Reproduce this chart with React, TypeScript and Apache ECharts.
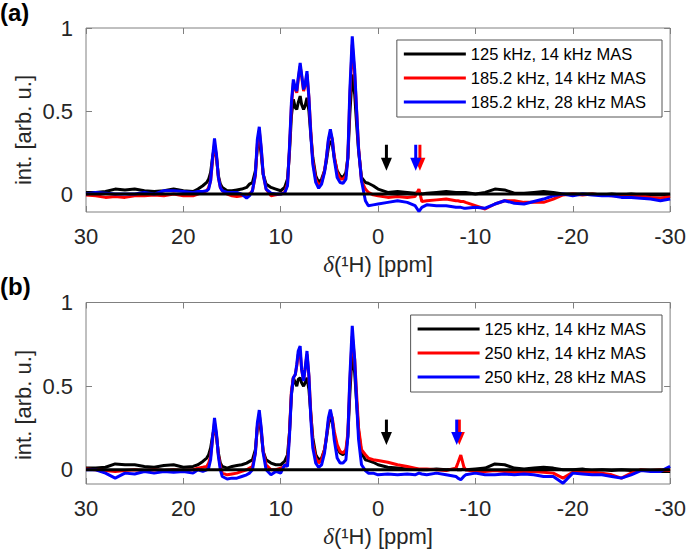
import React, { useEffect, useRef } from "react";
import * as echarts from "echarts";

// Chemical shift grid (ppm), shared by all spectra
const ppm = [
  30, 29, 28, 27, 26, 25, 24, 23, 22, 21, 20, 19,
  18.5, 18, 17.6, 17.4, 17.2, 17.0, 16.8, 16.6, 16.4, 16.2, 16.0,
  15.5, 15, 14.5, 14, 13.5, 13.2,
  12.9, 12.6, 12.4, 12.2, 12.0, 11.8, 11.5,
  11.0, 10.5, 10.0, 9.6, 9.3,
  9.1, 8.9, 8.7, 8.5, 8.35, 8.2, 8.0, 7.85, 7.65, 7.5, 7.3, 7.1, 6.9, 6.7, 6.4, 6.1,
  5.8, 5.5, 5.3, 5.1, 4.9, 4.7, 4.5, 4.2, 3.9,
  3.6, 3.3, 3.1, 2.9, 2.65, 2.4, 2.2, 2.0, 1.7,
  1.3, 1.0, 0.5, 0,
  -1, -2, -3, -3.8, -4.2, -4.5, -5,
  -6, -7, -8, -8.2, -8.5, -8.8, -9,
  -10, -11, -12, -13, -14, -15, -16, -17, -18, -19, -20, -21, -22, -23, -24, -25, -26, -27, -28, -29, -30,
];

// Panel (a)
const blackA = [
  0.01, 0.01, 0.015, 0.03, 0.025, 0.03, 0.02, 0.015, 0.02, 0.03, 0.02, 0.015,
  0.03, 0.05, 0.07, 0.09, 0.13, 0.22, 0.29, 0.22, 0.11, 0.06, 0.04,
  0.02, 0.02, 0.025, 0.03, 0.04, 0.06,
  0.07, 0.14, 0.28, 0.33, 0.24, 0.12, 0.06,
  0.04, 0.03, 0.02, 0.04, 0.09,
  0.25, 0.47, 0.57, 0.52, 0.51, 0.55, 0.59, 0.54, 0.51, 0.53, 0.58, 0.5, 0.35, 0.22, 0.11, 0.07,
  0.09, 0.14, 0.2, 0.28, 0.32, 0.3, 0.22, 0.14, 0.11,
  0.1, 0.13, 0.22, 0.48, 0.72, 0.6, 0.42, 0.26, 0.1,
  0.07, 0.065, 0.05, 0.03,
  0.01, 0.015, 0.01, 0.005, 0.01, 0.0, 0.005,
  0.01, 0.015, 0.01, 0.01, 0.01, 0.01, 0.01,
  0.0, 0.01, 0.03, 0.025, 0.005, 0.005, 0.01, 0.015, 0.01, 0.0, 0.0, 0.0, 0.0, -0.005, 0.0, -0.005, 0.0, -0.005, -0.005, -0.005, -0.005,
];
const redA = [
  -0.005, -0.01, -0.02, -0.015, -0.02, -0.01, -0.01, -0.005, -0.01, 0.0, -0.01, -0.01,
  0.0, 0.01, 0.02, 0.04, 0.08, 0.2, 0.3, 0.23, 0.1, 0.04, 0.02,
  0.0, -0.01, -0.015, -0.01, -0.005, 0.0,
  0.02, 0.11, 0.3, 0.38, 0.27, 0.12, 0.03,
  -0.01, -0.005, 0.0, 0.01, 0.06,
  0.27, 0.53, 0.67, 0.63, 0.61, 0.69, 0.77, 0.71, 0.62, 0.65, 0.72, 0.58, 0.37, 0.2, 0.09, 0.05,
  0.07, 0.14, 0.22, 0.32, 0.37, 0.33, 0.23, 0.13, 0.09,
  0.09, 0.11, 0.22, 0.58, 0.9, 0.72, 0.5, 0.28, 0.08,
  0.03, 0.01, -0.005, -0.01,
  -0.02, -0.015, -0.02, -0.015, 0.03, -0.045, -0.04,
  -0.035, -0.03, -0.04, -0.04, -0.045, -0.045, -0.05,
  -0.07, -0.09, -0.06, -0.04, -0.04, -0.05, -0.05, -0.05, -0.03, -0.005, 0.0, -0.005, 0.0, -0.005, -0.01, -0.01, -0.015, -0.01, -0.02, -0.025, -0.015,
];
const blueA = [
  0.0, 0.01, 0.005, 0.0, 0.0, 0.0, 0.01, 0.0, 0.02, 0.02, 0.015, 0.01,
  0.015, 0.015, 0.02, 0.03, 0.08, 0.22, 0.335, 0.24, 0.1, 0.04, 0.02,
  0.01, 0.01, 0.01, 0.0, -0.025, -0.01,
  0.02, 0.12, 0.33, 0.405, 0.28, 0.12, 0.03,
  0.005, 0.0, 0.0, 0.005, 0.05,
  0.28, 0.55, 0.69, 0.64, 0.62, 0.7, 0.79, 0.72, 0.63, 0.66, 0.74, 0.58, 0.35, 0.18, 0.07, 0.035,
  0.06, 0.13, 0.22, 0.33, 0.39, 0.33, 0.21, 0.1, 0.07,
  0.065, 0.09, 0.22, 0.62, 0.95, 0.75, 0.5, 0.27, 0.08,
  -0.04, -0.07, -0.065, -0.06,
  -0.05, -0.04, -0.05, -0.07, -0.105, -0.08, -0.065,
  -0.07, -0.07, -0.08, -0.08, -0.08, -0.085, -0.085,
  -0.08, -0.085, -0.06, -0.04, -0.055, -0.06, -0.045, -0.03, -0.01, 0.0, -0.01, 0.0, -0.005, -0.01, -0.01, -0.02, -0.02, -0.025, -0.03, -0.04, -0.03,
];

// Panel (b)
const blackB = [
  0.01, 0.01, 0.015, 0.035, 0.03, 0.03, 0.02, 0.015, 0.025, 0.03, 0.015, 0.02,
  0.03, 0.05, 0.07, 0.09, 0.13, 0.2, 0.26, 0.2, 0.1, 0.04, 0.02,
  0.01, 0.02, 0.025, 0.03, 0.04, 0.05,
  0.06, 0.12, 0.25, 0.3, 0.22, 0.11, 0.06,
  0.04, 0.03, 0.03, 0.05, 0.09,
  0.22, 0.45, 0.55, 0.52, 0.5, 0.54, 0.55, 0.52, 0.5, 0.52, 0.55, 0.48, 0.33, 0.19, 0.09, 0.06,
  0.07, 0.12, 0.19, 0.27, 0.31, 0.29, 0.21, 0.13, 0.1,
  0.09, 0.11, 0.2, 0.45, 0.7, 0.58, 0.4, 0.23, 0.1,
  0.06, 0.055, 0.045, 0.03,
  0.015, 0.01, 0.005, 0.005, 0.0, 0.0, 0.0,
  0.005, 0.0, 0.005, 0.0, 0.0, 0.005, 0.0,
  0.005, 0.01, 0.035, 0.03, 0.01, 0.005, 0.01, 0.015, 0.01, 0.0, 0.0, 0.005, -0.005, 0.0, -0.005, 0.0, -0.005, -0.005, -0.005, -0.01, -0.01,
];
const redB = [
  0.005, 0.0, -0.005, -0.01, -0.005, 0.0, -0.005, 0.0, -0.005, 0.0, -0.005, 0.0,
  0.01, 0.015, 0.02, 0.04, 0.08, 0.18, 0.28, 0.21, 0.09, 0.02, -0.02,
  -0.03, -0.025, -0.02, -0.01, 0.0, 0.01,
  0.02, 0.1, 0.26, 0.33, 0.24, 0.11, 0.03,
  0.0, 0.0, 0.01, 0.02, 0.04,
  0.22, 0.47, 0.55, 0.57, 0.62, 0.69, 0.7, 0.6, 0.54, 0.6, 0.69, 0.56, 0.33, 0.16, 0.07, 0.04,
  0.06, 0.12, 0.2, 0.29, 0.34, 0.31, 0.23, 0.15, 0.11,
  0.1, 0.12, 0.22, 0.52, 0.8, 0.66, 0.45, 0.25, 0.12,
  0.09, 0.07, 0.06, 0.055,
  0.045, 0.03, 0.02, 0.01, 0.005, 0.005, 0.005,
  0.0, -0.005, 0.01, 0.04, 0.088, 0.02, 0.0,
  -0.01, -0.01, -0.005, -0.01, -0.015, -0.01, -0.01, -0.015, -0.02, -0.05, -0.015, -0.01, -0.015, -0.02, -0.03, -0.05, -0.02, 0.0, -0.005, 0.0, -0.005,
];
const blueB = [
  0.0, 0.0, -0.02, -0.05, -0.02, -0.025, -0.01, -0.02, -0.01, -0.015, -0.01, -0.02,
  0.0, -0.01, 0.0, 0.01, 0.06, 0.19, 0.31, 0.22, 0.08, 0.0, -0.04,
  -0.055, -0.05, -0.05, -0.04, -0.03, -0.02,
  0.0, 0.1, 0.28, 0.357, 0.25, 0.1, 0.0,
  -0.03, -0.01, -0.02, 0.03, 0.02,
  0.2, 0.45, 0.55, 0.57, 0.63, 0.71, 0.74, 0.6, 0.53, 0.6, 0.71, 0.56, 0.3, 0.13, 0.04, 0.015,
  0.03, 0.1, 0.2, 0.31, 0.36, 0.3, 0.18, 0.07, 0.04,
  0.04, 0.06, 0.2, 0.55, 0.86, 0.66, 0.4, 0.18, 0.03,
  -0.005, -0.02, -0.02, -0.03,
  -0.025, -0.03, -0.025, -0.03, -0.02, -0.025, -0.03,
  -0.02, -0.03, -0.04, -0.05, -0.06, -0.04, -0.03,
  -0.02, -0.03, -0.03, -0.025, -0.03, -0.025, -0.03, -0.04, -0.04, -0.08, -0.02, -0.025, -0.03, -0.03, -0.04, -0.05, -0.03, -0.005, -0.01, -0.01, 0.02,
];

const namesA = ["125 kHz, 14 kHz MAS", "185.2 kHz, 14 kHz MAS", "185.2 kHz, 28 kHz MAS"];
const namesB = ["125 kHz, 14 kHz MAS", "250 kHz, 14 kHz MAS", "250 kHz, 28 kHz MAS"];
const yTitle = "int. [arb. u.]";

// Arrows: ppm position of each arrow (black, red, blue), arrow top and tip intensity
const arrowPpmA = [-0.86, -4.3, -3.87];
const arrowYA = [0.297, 0.14];
const arrowPpmB = [-0.86, -8.35, -8.08];
const arrowYB = [0.3, 0.148];

const xTicks = { min: -30, max: 30, interval: 10 };
const yTickValues = [0, 0.5, 1];
const yRangeA = [-0.108, 1];
const yRangeB = [-0.085, 1];
const zeroLine = [30, -30];

const COLORS = ["#000000", "#ff0000", "#0000ff"];
const FONT = "Liberation Sans";
const BOX = "#808080";
const LABEL = "#262626";

export default function App() {
  const ref = useRef<HTMLDivElement>(null);
  useEffect(() => {
    document.body.style.margin = "0";
    const chart = echarts.init(ref.current!, null, { renderer: "svg" });

    const pair = (vals: number[]) => ppm.map((p, i) => [p, vals[i]]);

    const tick = { inside: true, length: 6, lineStyle: { color: BOX, width: 1 } };
    const xBase = (gridIndex: number, pos: "bottom" | "top", labels: boolean) => ({
      type: "value",
      gridIndex,
      position: pos,
      inverse: true,
      min: xTicks.min,
      max: xTicks.max,
      interval: xTicks.interval,
      axisLine: { show: false, onZero: false },
      axisTick: tick,
      splitLine: { show: false },
      axisLabel: labels
        ? { show: true, fontSize: 22, color: LABEL, fontFamily: FONT, margin: 13 }
        : { show: false },
      name: labels ? "{i|δ}(¹H) [ppm]" : "",
      nameLocation: "middle",
      nameGap: 41,
      nameTextStyle: {
        fontSize: 22,
        color: LABEL,
        fontFamily: FONT,
        rich: { i: { fontStyle: "italic", fontFamily: "Liberation Serif", fontSize: 23, color: LABEL } },
      },
    });
    const yBase = (gridIndex: number, pos: "left" | "right", range: number[], labels: boolean) => ({
      type: "value",
      gridIndex,
      position: pos,
      min: range[0],
      max: range[1],
      axisLine: { show: false, onZero: false },
      axisTick: { ...tick, customValues: yTickValues },
      splitLine: { show: false },
      axisLabel: labels
        ? { show: true, customValues: yTickValues, fontSize: 22, color: LABEL, fontFamily: FONT, margin: 13 }
        : { show: false, customValues: yTickValues },
    });

    const spectrum = (name: string, vals: number[], color: string, axis: number) => ({
      type: "line",
      name,
      data: pair(vals),
      xAxisIndex: axis * 2,
      yAxisIndex: axis * 2,
      symbol: "none",
      lineStyle: { color, width: 3 },
      itemStyle: { color },
      silent: true,
    });

    const zero = (axis: number) => ({
      type: "line",
      data: zeroLine.map((p) => [p, 0]),
      xAxisIndex: axis * 2,
      yAxisIndex: axis * 2,
      symbol: "none",
      lineStyle: { color: "#000", width: 3 },
      z: 5,
      silent: true,
    });

    const arrows = (ppms: number[], ys: number[], axis: number) => ({
      type: "custom",
      xAxisIndex: axis * 2,
      yAxisIndex: axis * 2,
      z: 6,
      silent: true,
      data: ppms.map((p) => [p, ys[0], ys[1]]),
      encode: { x: 0, y: [1, 2] },
      renderItem: (params: any, api: any) => {
        const top = api.coord([api.value(0), api.value(1)]);
        const tip = api.coord([api.value(0), api.value(2)]);
        const color = COLORS[params.dataIndex];
        const hw = 5.5;
        const hh = 13;
        return {
          type: "group",
          children: [
            {
              type: "line",
              shape: { x1: top[0], y1: top[1], x2: tip[0], y2: tip[1] - hh + 1 },
              style: { stroke: color, lineWidth: 3 },
            },
            {
              type: "polygon",
              shape: {
                points: [
                  [tip[0] - hw, tip[1] - hh],
                  [tip[0] + hw, tip[1] - hh],
                  [tip[0], tip[1]],
                ],
              },
              style: { fill: color },
            },
          ],
        };
      },
    });

    const legend = (names: string[], top: number) => ({
      data: names,
      orient: "vertical",
      right: 27,
      top,
      icon: "rect",
      itemWidth: 62,
      itemHeight: 3,
      itemGap: 6,
      padding: [5, 16, 6, 7],
      backgroundColor: "#fff",
      borderColor: "#555",
      borderWidth: 1,
      borderRadius: 0,
      selectedMode: false,
      textStyle: { fontSize: 16.5, lineHeight: 18, color: "#000", fontFamily: FONT },
    });

    const yName = (y: number) => ({
      type: "text",
      x: 23,
      y,
      rotation: Math.PI / 2,
      style: { text: yTitle, font: `22px "${FONT}"`, fill: LABEL, align: "center", verticalAlign: "middle" },
    });

    chart.setOption({
      animation: false,
      textStyle: { fontFamily: FONT },
      grid: [
        { left: 86, top: 28, width: 593, height: 184, show: true, borderColor: BOX, borderWidth: 1, backgroundColor: "transparent" },
        { left: 86, top: 302.5, width: 593, height: 184.5, show: true, borderColor: BOX, borderWidth: 1, backgroundColor: "transparent" },
      ],
      xAxis: [xBase(0, "bottom", true), xBase(0, "top", false), xBase(1, "bottom", true), xBase(1, "top", false)],
      yAxis: [
        yBase(0, "left", yRangeA, true),
        yBase(0, "right", yRangeA, false),
        yBase(1, "left", yRangeB, true),
        yBase(1, "right", yRangeB, false),
      ],
      legend: [legend(namesA, 40), legend(namesB, 315)],
      graphic: [
        { type: "text", left: 0, top: 0, style: { text: "(a)", font: `bold 24px "${FONT}"`, fill: "#000" } },
        { type: "text", left: 0, top: 274, style: { text: "(b)", font: `bold 24px "${FONT}"`, fill: "#000" } },
        yName(130),
        yName(405),
      ],
      series: [
        spectrum(namesA[0], blackA, COLORS[0], 0),
        spectrum(namesA[1], redA, COLORS[1], 0),
        spectrum(namesA[2], blueA, COLORS[2], 0),
        zero(0),
        arrows(arrowPpmA, arrowYA, 0),
        spectrum(namesB[0], blackB, COLORS[0], 1),
        spectrum(namesB[1], redB, COLORS[1], 1),
        spectrum(namesB[2], blueB, COLORS[2], 1),
        zero(1),
        arrows(arrowPpmB, arrowYB, 1),
      ],
    });
    return () => chart.dispose();
  }, []);
  return <div ref={ref} style={{ width: 689, height: 549 }} />;
}
